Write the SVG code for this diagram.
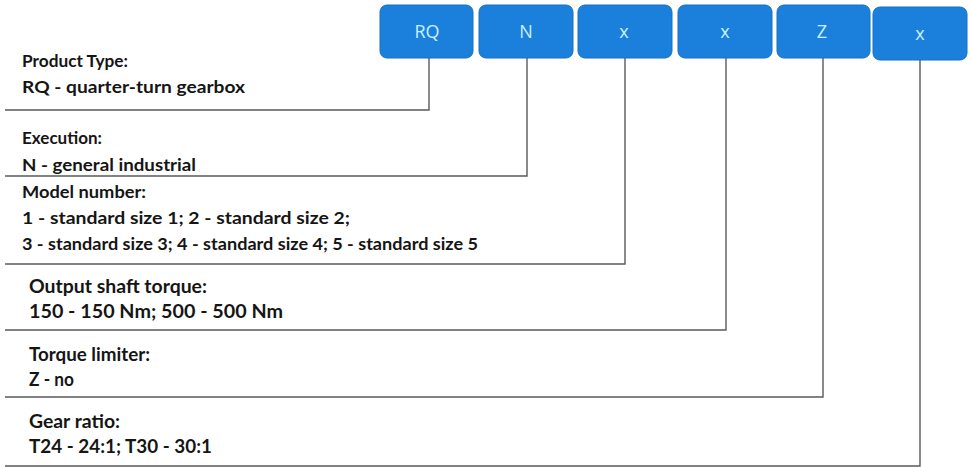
<svg xmlns="http://www.w3.org/2000/svg" width="971" height="467" viewBox="0 0 971 467">
<style>
.box{fill:#1b80dc;stroke:#1670c4;stroke-width:1}
.code{font-family:"Open Sans","Liberation Sans",sans-serif;font-size:18px;fill:#c9f1ff;text-anchor:middle}
.t{font-family:Lato,"Liberation Sans",sans-serif;font-weight:bold;font-size:17.5px;fill:#151515}
.n{font-size:18.5px}
.c{fill:none;stroke:#5a5a5a;stroke-width:1.4}
</style>
<rect width="971" height="467" fill="#fff"/>
<g id="connectors">
<polyline class="c" points="429,58 429,110 5,110"/>
<polyline class="c" points="527,58 527,176 5,176"/>
<polyline class="c" points="625,58 625,264 5,264"/>
<polyline class="c" points="726,58 726,330 5,330"/>
<polyline class="c" points="823,58 823,397 5,397"/>
<polyline class="c" points="920,60 920,466 5,466"/>
</g>
<g id="box-RQ"><rect class="box" x="380" y="5" width="93" height="53" rx="7"/><text class="code" x="427" y="38">RQ</text></g>
<g id="box-N"><rect class="box" x="479" y="5" width="94" height="53" rx="7"/><text class="code" x="526" y="38">N</text></g>
<g id="box-x1"><rect class="box" x="578" y="5" width="94" height="53" rx="7"/><text class="code" x="624" y="38">x</text></g>
<g id="box-x2"><rect class="box" x="678" y="5" width="94" height="53" rx="7"/><text class="code" x="725" y="38">x</text></g>
<g id="box-Z"><rect class="box" x="777" y="5" width="93" height="53" rx="7"/><text class="code" x="822" y="38">Z</text></g>
<g id="box-x3"><rect class="box" x="873" y="7" width="94" height="53" rx="7"/><text class="code" x="920" y="40">x</text></g>
<g id="product-type">
<text class="t" x="22" y="67" textLength="106" lengthAdjust="spacingAndGlyphs">Product Type:</text>
<text class="t" x="22" y="93" textLength="223" lengthAdjust="spacingAndGlyphs">RQ - quarter-turn gearbox</text>
</g>
<g id="execution">
<text class="t" x="22" y="144" textLength="80" lengthAdjust="spacingAndGlyphs">Execution:</text>
<text class="t" x="22" y="171" textLength="174" lengthAdjust="spacingAndGlyphs">N - general industrial</text>
</g>
<g id="model-number">
<text class="t" x="22" y="198" textLength="124" lengthAdjust="spacingAndGlyphs">Model number:</text>
<text class="t" x="22" y="224" textLength="328" lengthAdjust="spacingAndGlyphs">1 - standard size 1; 2 - standard size 2;</text>
<text class="t" x="22" y="250" textLength="456" lengthAdjust="spacingAndGlyphs">3 - standard size 3; 4 - standard size 4; 5 - standard size 5</text>
</g>
<g id="output-torque">
<text class="t n" x="29" y="293" textLength="178" lengthAdjust="spacingAndGlyphs">Output shaft torque:</text>
<text class="t n" x="29" y="318" textLength="254" lengthAdjust="spacingAndGlyphs">150 - 150 Nm; 500 - 500 Nm</text>
</g>
<g id="torque-limiter">
<text class="t n" x="29" y="361" textLength="121" lengthAdjust="spacingAndGlyphs">Torque limiter:</text>
<text class="t n" x="29" y="386" textLength="45" lengthAdjust="spacingAndGlyphs">Z - no</text>
</g>
<g id="gear-ratio">
<text class="t n" x="29" y="428" textLength="91" lengthAdjust="spacingAndGlyphs">Gear ratio:</text>
<text class="t n" x="29" y="453" textLength="183" lengthAdjust="spacingAndGlyphs">T24 - 24:1; T30 - 30:1</text>
</g>
</svg>
